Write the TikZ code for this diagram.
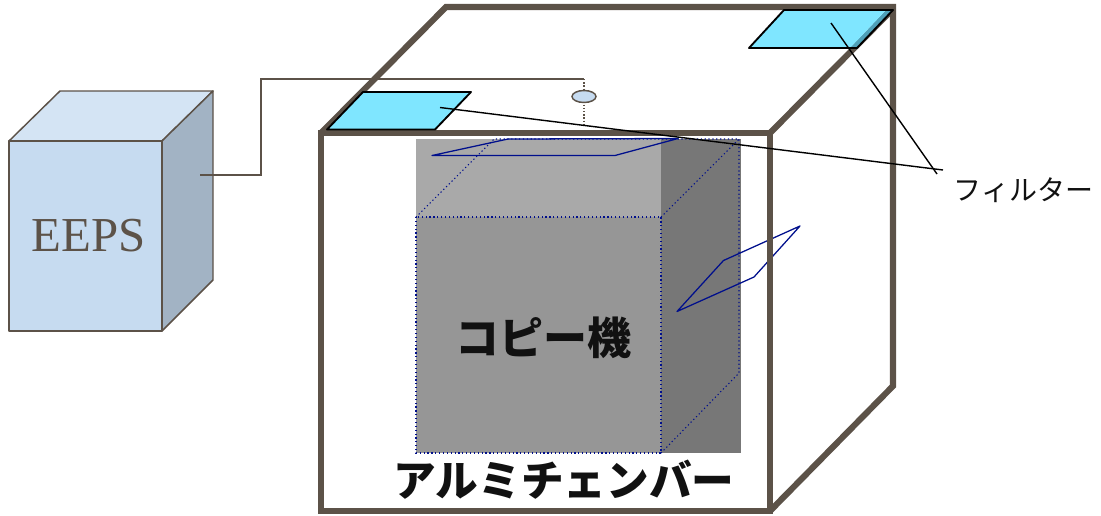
\documentclass[tikz,border=0pt]{standalone}
\usepackage{fontspec}
\setmainfont{Liberation Serif}
\newfontfamily\cjk{Noto Sans CJK JP}
\definecolor{wall}{HTML}{5C5248}
\definecolor{navyline}{HTML}{000F8C}
\definecolor{cyanfilter}{HTML}{7FE6FF}
\definecolor{tealedge}{HTML}{4FA0B8}
\definecolor{boxfront}{HTML}{C6DBF0}
\definecolor{boxtop}{HTML}{D4E4F4}
\definecolor{boxside}{HTML}{A2B3C4}
\definecolor{graytop}{HTML}{A9A9A9}
\definecolor{grayfront}{HTML}{969696}
\definecolor{grayside}{HTML}{777777}
\definecolor{inktext}{HTML}{111111}
\tikzset{
  x=0.75pt,y=-0.75pt,
  chamber/.style={draw=wall,line width=4.6pt,line join=miter},
  eepsface/.style={draw=wall,line width=1.1pt,line join=round},
  wire/.style={draw=wall,line width=1.1pt},
  probe/.style={draw=wall,line width=1.1pt,dash pattern=on 1.1pt off 1.3pt},
  ghost/.style={draw=navyline,line width=0.8pt,dash pattern=on 0.9pt off 2pt},
  sheet/.style={draw=navyline,line width=0.95pt,line join=round},
  filterpane/.style={draw=black,fill=cyanfilter,line width=1.4pt,line join=round},
  leader/.style={draw=black,line width=1.05pt},
  label/.style={inner sep=0pt,outer sep=0pt}
}
\begin{document}
\begin{tikzpicture}
\useasboundingbox (0,0) rectangle (1101,515);
% EEPS box
\fill[boxtop] (9,141)--(60,91)--(213,91)--(162,141)--cycle;
\draw[eepsface] (9,141)--(60,91)--(213,91)--(162,141)--cycle;
\filldraw[eepsface,fill=boxside] (162,141)--(213,91)--(213,280)--(162,331)--cycle;
\filldraw[eepsface,fill=boxfront] (9,141) rectangle (162,331);
\node[label,text=wall,font=\fontsize{36.6pt}{37pt}\selectfont] (eeps) at (88.5,236) {EEPS};
% copier
\fill[graytop] (416,139) rectangle (661,217);
\fill[grayfront] (416,217) rectangle (661,453);
\fill[grayside] (661,139) rectangle (741,453);
\draw[ghost] (416,217) rectangle (661,453);
\draw[ghost] (416,217)--(494,139)--(739,139)--(739,373)--(661,453);
\draw[ghost] (661,217)--(739,139);
\draw[sheet] (432,155.5)--(508,139)--(678,138.5)--(615,155.5)--cycle;
\draw[sheet] (677,311.5)--(723.5,260.5)--(800,226)--(754,277)--cycle;
% chamber
\draw[chamber] (321,133)--(446,7)--(893,7)--(893,386)--(770,511);
\draw[chamber] (770,133)--(893,9);
\draw[chamber] (321,133) rectangle (770,511);
% wire and probe
\coordinate (wirestart) at (200,175);
\coordinate (wirebend1) at (261,175);
\coordinate (wirebend2) at (261,79);
\coordinate (wireend) at (584,79);
\coordinate (probeend) at (584,124);
\draw[wire] (wirestart)--(wirebend1)--(wirebend2)--(wireend);
\draw[probe] (wireend)--(probeend);
\filldraw[draw=wall,fill=boxfront,line width=1.1pt] (584,96.5) ellipse [x radius=12,y radius=6];
% filters
\fill[tealedge] (850,48)--(886,10)--(893,10)--(857,48)--cycle;
\draw[filterpane] (327,129.5)--(363,92)--(471,92)--(435,129.5)--cycle;
\fill[cyanfilter] (749,48)--(784,10)--(886,10)--(850,48)--cycle;
\draw[draw=black,line width=1.4pt,line join=round] (749,48)--(784,10)--(893,10)--(857,48)--cycle;
% labels
\node[label,font=\cjk\fontsize{21pt}{21pt}\selectfont,text=inktext] (filterlabel) at (1023.5,190) {フィルター};
\node[label,font=\cjk\bfseries\fontsize{33pt}{33pt}\selectfont,text=inktext] (copier) at (543.5,338) {コピー機};
\node[label,font=\cjk\bfseries\fontsize{32pt}{32pt}\selectfont,text=inktext] (chamberlabel) at (564,480) {アルミチェンバー};
% leaders
\coordinate (leaderA) at (440,107.5);
\coordinate (leaderAend) at (943,170);
\coordinate (leaderB) at (831,23);
\coordinate (leaderBend) at (937,174);
\draw[leader] (leaderA)--(leaderAend);
\draw[leader] (leaderB)--(leaderBend);
\end{tikzpicture}
\end{document}
